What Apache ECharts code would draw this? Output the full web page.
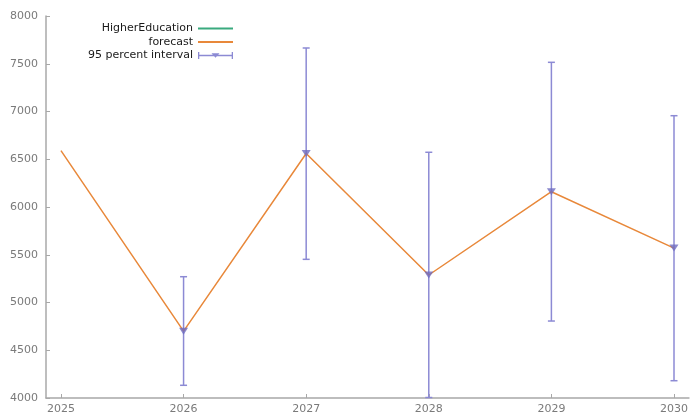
<!DOCTYPE html>
<html>
<head>
<meta charset="utf-8">
<script src="https://cdn.jsdelivr.net/npm/echarts@6/dist/echarts.min.js"></script>
<style>
  html, body { margin: 0; padding: 0; background: #fff; }
  #chart { width: 691px; height: 419px; }
</style>
</head>
<body>
<div id="chart"></div>
<script>
// Years on the horizontal axis
const years = [2025, 2026, 2027, 2028, 2029, 2030];
// Observed series (only the last observed year)
const historyYears = [2025];
const historyValues = [6590];
// Point forecast
const forecastValues = [6590, 4700, 6560, 5288, 6160, 5570];
// 95 percent interval bounds for forecast years
const intervalYears = [2026, 2027, 2028, 2029, 2030];
const intervalMid = [4700, 6560, 5288, 6160, 5570];
const intervalLow = [4133, 5452, 4005, 4806, 4181];
const intervalHigh = [5270, 7665, 6573, 7515, 6956];
// Y tick labels
const yTicks = [4000, 4500, 5000, 5500, 6000, 6500, 7000, 7500, 8000];

const GREEN = '#3aaa7e';
const ORANGE = '#e8883a';
const PURPLE = '#8c8ad4';
const PURPLE_DARK = '#6e6cc0';
const AXIS = '#a8a8a8';
const LABEL = '#7a7a7a';
const FONT = 'DejaVu Sans';

const chart = echarts.init(document.getElementById('chart'), null, { renderer: 'canvas' });

const lineIcon = 'path://M0,0h35v2h-35z';
const errorBarIcon = 'path://M0,3.3h35v1.4h-35z M0,0.5h1.3v7h-1.3z M33.7,0.5h1.3v7h-1.3z M13.5,1.8h8l-4,4.4z';

chart.setOption({
  animation: false,
  backgroundColor: '#fff',
  textStyle: { fontFamily: FONT },
  grid: { left: 46, right: 0, top: 16, bottom: 21, containLabel: false },
  legend: {
    orient: 'vertical',
    align: 'right',
    right: 458,
    top: 23,
    padding: 0,
    itemWidth: 35,
    itemHeight: 8,
    itemGap: 2.5,
    textStyle: { fontFamily: FONT, fontSize: 11, color: '#1a1a1a' },
    data: [
      { name: 'HigherEducation', icon: lineIcon, itemStyle: { color: GREEN } },
      { name: 'forecast', icon: lineIcon, itemStyle: { color: ORANGE } },
      { name: '95 percent interval', icon: errorBarIcon, itemStyle: { color: PURPLE } }
    ]
  },
  xAxis: {
    type: 'value',
    min: 2024.878,
    max: 2030.122,
    splitLine: { show: false },
    axisLine: { show: true, lineStyle: { color: AXIS, width: 1.5 } },
    axisTick: { show: true, inside: true, length: 4, lineStyle: { color: AXIS }, customValues: years },
    axisLabel: { color: LABEL, fontSize: 11, fontFamily: FONT, margin: 6, customValues: years, formatter: v => String(v) }
  },
  yAxis: {
    type: 'value',
    min: yTicks[0],
    max: yTicks[yTicks.length - 1],
    interval: 500,
    splitLine: { show: false },
    axisLine: { show: true, lineStyle: { color: AXIS, width: 1.5 } },
    axisTick: { show: true, inside: true, length: 4, lineStyle: { color: AXIS } },
    axisLabel: { color: LABEL, fontSize: 11, fontFamily: FONT, margin: 8, formatter: v => String(v) }
  },
  series: [
    {
      name: 'HigherEducation',
      type: 'line',
      symbol: 'none',
      lineStyle: { color: GREEN, width: 1.5 },
      itemStyle: { color: GREEN },
      data: historyYears.map((y, i) => [y, historyValues[i]])
    },
    {
      name: 'forecast',
      type: 'line',
      symbol: 'none',
      lineStyle: { color: ORANGE, width: 1.5 },
      itemStyle: { color: ORANGE },
      data: years.map((y, i) => [y, forecastValues[i]])
    },
    {
      name: '95 percent interval',
      type: 'custom',
      itemStyle: { color: PURPLE },
      renderItem: function (params, api) {
        const x = api.value(0);
        const top = api.coord([x, api.value(2)]);
        const bot = api.coord([x, api.value(1)]);
        const half = 3.5;
        const style = { stroke: PURPLE, lineWidth: 1.5, fill: null };
        return {
          type: 'group',
          children: [
            { type: 'line', shape: { x1: top[0], y1: top[1], x2: bot[0], y2: bot[1] }, style },
            { type: 'line', shape: { x1: top[0] - half, y1: top[1], x2: top[0] + half, y2: top[1] }, style },
            { type: 'line', shape: { x1: bot[0] - half, y1: bot[1], x2: bot[0] + half, y2: bot[1] }, style }
          ]
        };
      },
      encode: { x: 0, y: [1, 2] },
      data: intervalYears.map((y, i) => [y, intervalLow[i], intervalHigh[i]]),
      z: 3
    },
    {
      name: '95 percent interval',
      type: 'scatter',
      symbol: 'triangle',
      symbolRotate: 180,
      symbolSize: [9, 7],
      itemStyle: { color: PURPLE_DARK },
      data: intervalYears.map((y, i) => [y, intervalMid[i]]),
      z: 4
    }
  ]
});
</script>
</body>
</html>
